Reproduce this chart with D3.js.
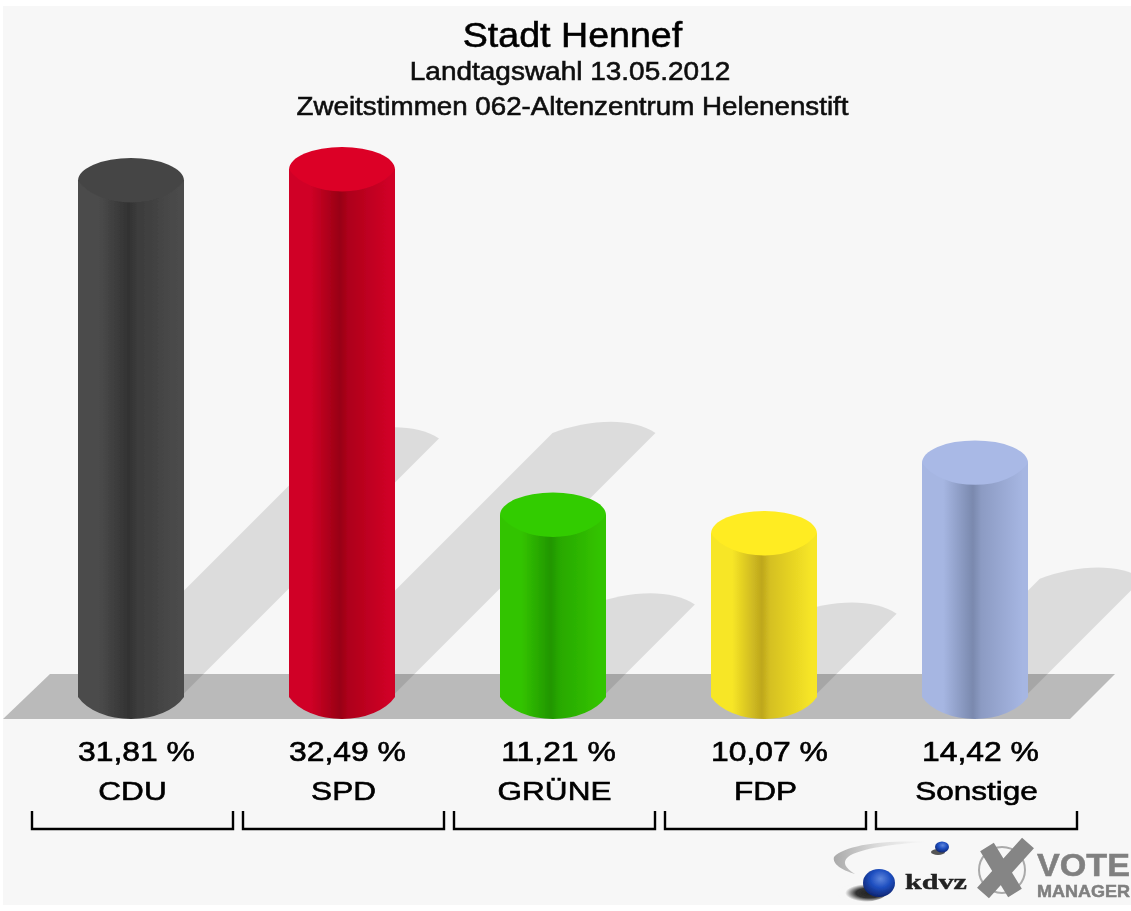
<!DOCTYPE html>
<html>
<head>
<meta charset="utf-8">
<script src="https://cdn.jsdelivr.net/npm/d3@7"></script>
<style>
  html, body { margin: 0; padding: 0; background: #fff; }
  svg { display: block; }
  text { font-family: "Liberation Sans", Arial, sans-serif; }
</style>
</head>
<body>
<div id="container"></div>
<script>
const titles = ["Stadt Hennef", "Landtagswahl 13.05.2012", "Zweitstimmen 062-Altenzentrum Helenenstift"];
const categories = ["CDU", "SPD", "GRÜNE", "FDP", "Sonstige"];
const values = [31.81, 32.49, 11.21, 10.07, 14.42];
const valueLabels = ["31,81 %", "32,49 %", "11,21 %", "10,07 %", "14,42 %"];

// top / edge / core shade per party
const partyColors = [
  ["#454545", "#4b4b4b", "#323232"],
  ["#dc0028", "#d00026", "#980014"],
  ["#33cc00", "#33c400", "#219600"],
  ["#ffec24", "#f7e626", "#bea71e"],
  ["#a9b9e6", "#a6b6e2", "#7a89ae"]
];

const width = 1131;
const height = 911;
const rx = 53;
const ry = 22.5;
const baseY = 697;

const svg = d3.select("#container").append("svg")
  .attr("width", width)
  .attr("height", height);
const defs = svg.append("defs");

defs.append("filter").attr("id", "soft")
  .attr("filterUnits", "userSpaceOnUse")
  .attr("x", 0).attr("y", 0).attr("width", width).attr("height", height)
  .append("feGaussianBlur").attr("stdDeviation", 0.7);

const x = d3.scaleBand().domain(categories).range([32, 1077]).paddingInner(10 / 211);
const y = d3.scaleLinear().domain([0, 32.49]).range([baseY, 169.5]);
const shadowLen = d3.scaleLinear().domain([0, 32.49]).range([0, 262]);
const barX = c => x(c) + x.bandwidth() / 2 - 1.5;

categories.forEach((c, i) => {
  const [, edge, core] = partyColors[i];
  const grad = defs.append("linearGradient").attr("id", "side" + i);
  [[0, edge], [0.2, edge], [0.48, core], [0.56, d3.interpolateRgb(core, edge)(0.4)], [0.95, edge], [1, edge]]
    .forEach(([o, col]) => grad.append("stop").attr("offset", o).attr("stop-color", col));
});

const big = defs.append("radialGradient").attr("id", "ball").attr("cx", 0.55).attr("cy", 0.35).attr("r", 0.7);
[[0, "#5f86dc"], [0.45, "#1f4fc0"], [1, "#0b1f66"]]
  .forEach(([o, col]) => big.append("stop").attr("offset", o).attr("stop-color", col));
const swoosh = defs.append("linearGradient").attr("id", "swoosh");
[[0, "#aaa"], [0.5, "#ddd"], [1, "#f7f7f7"]]
  .forEach(([o, col]) => swoosh.append("stop").attr("offset", o).attr("stop-color", col));
const ballShade = defs.append("radialGradient").attr("id", "ballShade").attr("cx", 0.65);
[[0, "#222"], [0.55, "#333"], [1, "#f7f7f7"]]
  .forEach(([o, col]) => ballShade.append("stop").attr("offset", o).attr("stop-color", col));

const root = svg.append("g").attr("filter", "url(#soft)");

root.append("rect")
  .attr("x", 3).attr("y", 6)
  .attr("width", width - 3).attr("height", 899)
  .attr("fill", "#f7f7f7");

// ground
const groundPath = d3.path();
groundPath.moveTo(3, 719);
groundPath.lineTo(50, 674);
groundPath.lineTo(1115, 674);
groundPath.lineTo(1070, 719);
groundPath.closePath();
root.append("path").attr("d", groundPath.toString()).attr("fill", "#bababa");

// shadows run up to the right at 45deg, length follows the value
root.append("g").selectAll("path")
  .data(categories)
  .join("path")
  .attr("fill", "#000")
  .attr("fill-opacity", 0.105)
  .attr("d", (c, i) => {
    const cx = barX(c);
    const d = shadowLen(values[i]);
    const half = 51.5;
    const topY = 695 - d;
    return `M${cx - half},695 L${cx - half + d},${topY}`
      + ` C${cx + d - 18},${topY - 13} ${cx + d + 27},${topY - 17} ${cx + half + d},${topY}`
      + ` L${cx + half},695 Z`;
  });

// cylinders, the front curve is a bit pointier than a plain ellipse
const frontCurve = (cx, yy) => `A58,37 0 0 0 ${cx + rx},${yy}`;

const bars = root.append("g").selectAll("g")
  .data(categories)
  .join("g");

bars.append("path")
  .attr("fill", (c, i) => `url(#side${i})`)
  .attr("d", (c, i) => {
    const cx = barX(c);
    const top = y(values[i]);
    return `M${cx - rx},${top} L${cx - rx},${baseY} ${frontCurve(cx, baseY)} L${cx + rx},${top} Z`;
  });

bars.append("path")
  .attr("fill", (c, i) => partyColors[i][0])
  .attr("d", (c, i) => {
    const cx = barX(c);
    const top = y(values[i]);
    return `M${cx - rx},${top} ${frontCurve(cx, top)} A${rx},${ry} 0 0 0 ${cx - rx},${top} Z`;
  });

// the source text is wider than it is tall, so every label gets an x-stretch
const stretched = (sel, xFn, yFn, sx) => sel
  .attr("transform", (d, i) => `translate(${xFn(d, i)},${yFn(d, i)}) scale(${sx},1)`)
  .attr("text-anchor", "middle")
  .attr("stroke-width", 0.6);

// titles
const titleStyle = [
  { x: 572.5, y: 47, size: 36, sx: 1.045, color: "#000" },
  { x: 570, y: 80, size: 26, sx: 1.077, color: "#111" },
  { x: 572.5, y: 115, size: 26, sx: 1.068, color: "#111" }
];
root.append("g").selectAll("text")
  .data(titles)
  .join("text")
  .attr("font-size", (d, i) => titleStyle[i].size)
  .attr("fill", (d, i) => titleStyle[i].color)
  .attr("stroke", (d, i) => titleStyle[i].color)
  .text(d => d)
  .each(function(d, i) {
    stretched(d3.select(this), () => titleStyle[i].x, () => titleStyle[i].y, titleStyle[i].sx);
  });

// labels under the bars
root.append("g").selectAll("text")
  .data(valueLabels)
  .join("text")
  .attr("font-size", 27)
  .attr("fill", "#000")
  .attr("stroke", "#000")
  .text(d => d)
  .call(stretched, (d, i) => x(categories[i]) + x.bandwidth() / 2 + 4, () => 761, 1.18);

root.append("g").selectAll("text")
  .data(categories)
  .join("text")
  .attr("font-size", 26.5)
  .attr("fill", "#000")
  .attr("stroke", "#000")
  .text(d => d)
  .call(stretched, c => x(c) + x.bandwidth() / 2, () => 800, 1.19);

// brackets
root.append("g").selectAll("path")
  .data(categories)
  .join("path")
  .attr("fill", "none")
  .attr("stroke", "#000")
  .attr("stroke-width", 2.4)
  .attr("d", c => `M${x(c)},811 V829 H${x(c) + x.bandwidth()} V811`);

// logos
const logo = root.append("g");
logo.append("path")
  .attr("fill", "url(#swoosh)")
  .attr("d", "M925,842 C885,840 845,845 834,857 C832,864 842,870 855,874 C845,868 842,862 848,857 C860,848 895,844 925,842 Z");
logo.append("ellipse").attr("cx", 938).attr("cy", 852).attr("rx", 7).attr("ry", 3).attr("fill", "#555");
logo.append("ellipse").attr("cx", 942).attr("cy", 847).attr("rx", 7).attr("ry", 5.5).attr("fill", "url(#ball)");
logo.append("ellipse").attr("cx", 862).attr("cy", 893).attr("rx", 24).attr("ry", 9).attr("fill", "url(#ballShade)");
logo.append("ellipse").attr("cx", 879).attr("cy", 883).attr("rx", 16).attr("ry", 14).attr("fill", "url(#ball)");
logo.append("text")
  .attr("x", 905).attr("y", 889)
  .style("font-family", "'Liberation Serif', serif")
  .attr("font-weight", "bold")
  .attr("font-size", 21)
  .attr("textLength", 62)
  .attr("lengthAdjust", "spacingAndGlyphs")
  .attr("fill", "#222")
  .attr("stroke", "#222")
  .attr("stroke-width", 0.4)
  .text("kdvz");
logo.append("circle")
  .attr("cx", 1002).attr("cy", 870).attr("r", 23)
  .attr("fill", "none").attr("stroke", "#aaa").attr("stroke-width", 2);
logo.append("path")
  .attr("fill", "none").attr("stroke", "#858585").attr("stroke-width", 16)
  .attr("d", "M987,847 L1015,893 M1028,843 L983,893");
logo.append("text")
  .attr("x", 1037).attr("y", 876)
  .attr("font-weight", "bold")
  .attr("font-size", 31)
  .attr("textLength", 93)
  .attr("lengthAdjust", "spacingAndGlyphs")
  .attr("fill", "#808080")
  .attr("stroke", "#808080")
  .attr("stroke-width", 0.5)
  .text("VOTE");
logo.append("text")
  .attr("x", 1037).attr("y", 897)
  .attr("font-weight", "bold")
  .attr("font-size", 17)
  .attr("textLength", 93)
  .attr("lengthAdjust", "spacingAndGlyphs")
  .attr("fill", "#808080")
  .attr("stroke", "#808080")
  .attr("stroke-width", 0.5)
  .text("MANAGER");
</script>
</body>
</html>
